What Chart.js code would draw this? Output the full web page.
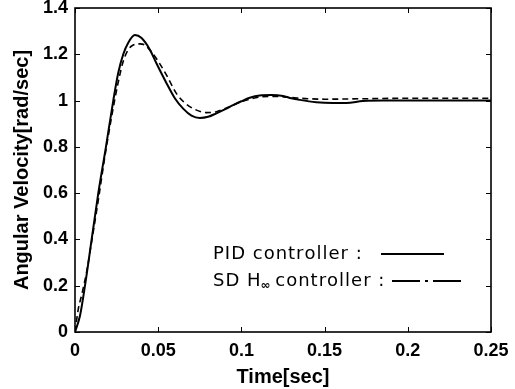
<!DOCTYPE html>
<html>
<head>
<meta charset="utf-8">
<script src="https://cdn.jsdelivr.net/npm/chart.js@4.4.1/dist/chart.umd.min.js"></script>
<style>
  html, body { margin: 0; padding: 0; background: #fff; }
  canvas { display: block; }
</style>
</head>
<body>
<canvas id="chart" width="515" height="389"></canvas>
<script>
// step response
const pidTime = [0, 0.003, 0.006, 0.010, 0.014, 0.0186, 0.023, 0.026, 0.029, 0.032, 0.036, 0.040, 0.045, 0.049, 0.055, 0.060, 0.065, 0.070, 0.075, 0.080, 0.085, 0.090, 0.095, 0.100, 0.105, 0.111, 0.118, 0.125, 0.130, 0.135, 0.145, 0.155, 0.163, 0.173, 0.185, 0.200, 0.250];
const pidVelocity = [0, 0.07, 0.2, 0.40, 0.60, 0.80, 1.00, 1.12, 1.20, 1.25, 1.283, 1.27, 1.22, 1.16, 1.075, 1.01, 0.965, 0.935, 0.925, 0.93, 0.945, 0.962, 0.98, 0.997, 1.012, 1.022, 1.024, 1.02, 1.01, 1.003, 0.993, 0.99, 0.99, 0.998, 1.0, 1.0, 1.0];

const hinfTime = [0, 0.002, 0.004, 0.007, 0.010, 0.014, 0.018, 0.022, 0.026, 0.029, 0.032, 0.035, 0.039, 0.042, 0.046, 0.050, 0.055, 0.061, 0.066, 0.072, 0.079, 0.085, 0.090, 0.095, 0.100, 0.106, 0.112, 0.120, 0.130, 0.140, 0.150, 0.175, 0.200, 0.250];
const hinfVelocity = [0, 0.1, 0.16, 0.26, 0.39, 0.57, 0.76, 0.93, 1.08, 1.17, 1.22, 1.24, 1.245, 1.24, 1.21, 1.17, 1.11, 1.03, 0.99, 0.962, 0.948, 0.952, 0.965, 0.98, 0.995, 1.008, 1.016, 1.018, 1.013, 1.008, 1.006, 1.008, 1.01, 1.01];

const xTickLabels = ['0', '0.05', '0.1', '0.15', '0.2', '0.25'];
const yTickLabels = ['0', '0.2', '0.4', '0.6', '0.8', '1', '1.2', '1.4'];

const legendRows = [
  { text: 'PID controller :', dash: [] },
  { text: 'SD H', sub: '\u221e', rest: ' controller :', dash: [28, 5, 3, 5] }
];

const FONT = '"Liberation Sans", Arial, Helvetica, sans-serif';
const LEGEND_FONT = '18px "DejaVu Sans", sans-serif';

function toPoints(xs, ys) {
  return xs.map((x, i) => ({ x, y: ys[i] }));
}

// slightly spaced text, the figure's legend is set wide
function spacedText(ctx, str, x, y, gap) {
  for (const ch of str) {
    ctx.fillText(ch, x, y);
    x += ctx.measureText(ch).width + gap;
  }
  return x;
}

// box + inward tick marks on all four sides
const frame = {
  id: 'frame',
  afterDraw(chart) {
    const { ctx, chartArea: a, scales } = chart;
    const len = 5;
    ctx.save();
    ctx.strokeStyle = '#000';
    ctx.lineWidth = 1;
    ctx.beginPath();
    scales.x.ticks.forEach((t) => {
      const px = Math.round(scales.x.getPixelForValue(t.value)) + 0.5;
      ctx.moveTo(px, a.bottom); ctx.lineTo(px, a.bottom - len);
      ctx.moveTo(px, a.top); ctx.lineTo(px, a.top + len);
    });
    scales.y.ticks.forEach((t) => {
      const py = Math.round(scales.y.getPixelForValue(t.value)) + 0.5;
      ctx.moveTo(a.left, py); ctx.lineTo(a.left + len, py);
      ctx.moveTo(a.right, py); ctx.lineTo(a.right - len, py);
    });
    ctx.stroke();
    ctx.lineWidth = 1.6;
    ctx.strokeRect(a.left, a.top, a.right - a.left, a.bottom - a.top);
    ctx.restore();
  }
};

// legend as in the figure: text first, line sample after it
const textLegend = {
  id: 'textLegend',
  afterDraw(chart) {
    const { ctx, chartArea: a } = chart;
    const x0 = a.left + 138;
    const rowY = [a.top + 246, a.top + 273];
    const lineEnds = [[381, 444], [392, 464]];
    const gap = 1;
    ctx.save();
    ctx.fillStyle = '#000';
    ctx.strokeStyle = '#000';
    ctx.textBaseline = 'middle';
    legendRows.forEach((row, i) => {
      const y = rowY[i];
      ctx.font = LEGEND_FONT;
      let x = spacedText(ctx, row.text, x0, y, gap);
      if (row.sub) {
        ctx.font = 'bold 12px "DejaVu Sans", sans-serif';
        ctx.fillText(row.sub, x - 1, y + 5);
        x += ctx.measureText(row.sub).width - 3;
        ctx.font = LEGEND_FONT;
        spacedText(ctx, row.rest, x, y, gap);
      }
      ctx.lineWidth = 2;
      ctx.setLineDash(row.dash);
      ctx.beginPath();
      ctx.moveTo(lineEnds[i][0], y);
      ctx.lineTo(lineEnds[i][1], y);
      ctx.stroke();
    });
    ctx.restore();
  }
};

const ctx = document.getElementById('chart').getContext('2d');

new Chart(ctx, {
  type: 'line',
  data: {
    datasets: [
      {
        label: 'PID controller',
        data: toPoints(pidTime, pidVelocity),
        borderColor: '#000',
        borderWidth: 2,
        pointRadius: 0,
        cubicInterpolationMode: 'monotone'
      },
      {
        label: 'SD H\u221e controller',
        data: toPoints(hinfTime, hinfVelocity),
        borderColor: '#000',
        borderWidth: 1.6,
        borderDash: [6, 4],
        pointRadius: 0,
        cubicInterpolationMode: 'monotone'
      }
    ]
  },
  options: {
    responsive: false,
    animation: false,
    devicePixelRatio: 1,
    layout: { padding: { top: 8, right: 24, left: 0, bottom: 0 } },
    plugins: {
      legend: { display: false },
      tooltip: { enabled: false }
    },
    scales: {
      x: {
        type: 'linear',
        min: 0,
        max: 0.25,
        grid: { display: false, drawTicks: false },
        border: { display: false },
        ticks: {
          stepSize: 0.05,
          padding: 8,
          color: '#000',
          font: { family: FONT, size: 18, weight: 'bold' },
          maxRotation: 0,
          callback: (v, i) => xTickLabels[i]
        },
        title: {
          display: true,
          text: 'Time[sec]',
          color: '#000',
          font: { family: FONT, size: 20, weight: 'bold' },
          padding: { top: 0, bottom: 0 }
        },
        afterFit(scale) {
          scale.height = 57;
          scale.paddingLeft = 0;
          scale.paddingRight = 0;
        }
      },
      y: {
        min: 0,
        max: 1.4,
        grid: { display: false, drawTicks: false },
        border: { display: false },
        ticks: {
          stepSize: 0.2,
          padding: 7,
          color: '#000',
          font: { family: FONT, size: 18, weight: 'bold' },
          callback: (v, i) => yTickLabels[i]
        },
        title: {
          display: true,
          text: 'Angular Velocity[rad/sec]',
          color: '#000',
          font: { family: FONT, size: 20, weight: 'bold' },
          padding: { top: 10, bottom: 0 }
        },
        afterFit(scale) {
          scale.width = 75;
          scale.paddingTop = 0;
          scale.paddingBottom = 0;
        }
      }
    }
  },
  plugins: [frame, textLegend]
});
</script>
</body>
</html>
